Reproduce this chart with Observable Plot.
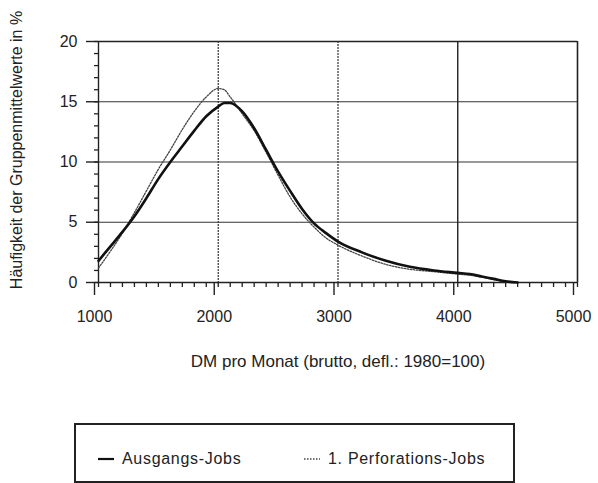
<!DOCTYPE html>
<html>
<head>
<meta charset="utf-8">
<script src="https://cdn.jsdelivr.net/npm/d3@7"></script>
<script src="https://cdn.jsdelivr.net/npm/@observablehq/plot@0.6"></script>
<style>
  html, body { margin: 0; padding: 0; background: #fff; }
  #wrap { position: relative; width: 598px; height: 483px; overflow: hidden; font-family: "Liberation Sans", Arial, sans-serif; color: #222; }
  #legend { position: absolute; left: 74px; top: 423px; width: 437px; height: 56px; border: 2px solid #222; box-sizing: content-box; }
  .item { position: absolute; top: 25px; font-size: 16px; letter-spacing: 0.7px; white-space: nowrap; display: flex; align-items: center; }
  .item svg { margin-right: 8px; }
</style>
</head>
<body>
<div id="wrap">
  <div id="chart"></div>
  <div id="legend"></div>
</div>
<script>
// Data
const income = [1000, 1100, 1200, 1300, 1400, 1500, 1600, 1700, 1800, 1900, 2000, 2050, 2100, 2200, 2300, 2400, 2500, 2600, 2700, 2800, 2900, 3000, 3200, 3400, 3600, 3800, 4000, 4100, 4200, 4300, 4400, 4500];
const ausgangsJobs = [1.8, 3.0, 4.2, 5.5, 7.0, 8.6, 10.0, 11.3, 12.6, 13.8, 14.6, 14.9, 14.9, 14.2, 12.8, 11.0, 9.2, 7.6, 6.1, 4.9, 4.1, 3.4, 2.5, 1.8, 1.3, 1.0, 0.8, 0.7, 0.5, 0.3, 0.1, 0.0];
const perforationsJobs = [1.2, 2.6, 4.1, 5.8, 7.6, 9.4, 11.0, 12.7, 14.2, 15.4, 16.1, 16.0, 15.4, 14.0, 12.6, 10.8, 8.9, 7.1, 5.7, 4.6, 3.7, 3.1, 2.2, 1.5, 1.1, 0.9, 0.7, 0.6, 0.45, 0.25, 0.05, 0.0];
const seriesNames = ["Ausgangs-Jobs", "1. Perforations-Jobs"];
const xTicks = [1000, 2000, 3000, 4000, 5000];
const yTicks = [0, 5, 10, 15, 20];
const xMinorTicks = d3.range(1000, 5001, 100);
const yMinorTicks = d3.range(0, 21, 1);
const xLabel = "DM pro Monat (brutto, defl.: 1980=100)";
const yLabel = "Häufigkeit der Gruppenmittelwerte in %";

const solidData = income.map((x, i) => ({x, y: ausgangsJobs[i]}));
const dottedData = income.map((x, i) => ({x, y: perforationsJobs[i]}));

const font = "'Liberation Sans', Arial, sans-serif";
const chart = Plot.plot({
  width: 598,
  height: 410,
  marginLeft: 98,
  marginRight: 21,
  marginTop: 41,
  marginBottom: 128,
  style: {fontFamily: font, fontSize: "16px", color: "#222", background: "white"},
  x: {domain: [1000, 5000]},
  y: {domain: [0, 20]},
  marks: [
    Plot.ruleY([5, 10, 15], {stroke: "#333", strokeWidth: 1.2}),
    Plot.ruleY([20], {stroke: "#222", strokeWidth: 1.5}),
    Plot.ruleX([2000, 3000], {stroke: "#333", strokeWidth: 1.2, strokeDasharray: "2,1"}),
    Plot.ruleX([1000, 4000], {stroke: "#222", strokeWidth: 1.4}),
    Plot.ruleX([5000], {stroke: "#222", strokeWidth: 1.6}),
    Plot.ruleY([0], {stroke: "#222", strokeWidth: 1.5}),
    Plot.axisY(yMinorTicks, {tickSize: 4, text: null, label: null, stroke: "#222", strokeWidth: 1.3}),
    Plot.axisY(yTicks, {tickSize: 12, tickPadding: 9, label: null, stroke: "#222", strokeWidth: 1.4, tickFormat: d3.format("d"), style: {letterSpacing: "1.5px"}}),
    Plot.axisX(xMinorTicks, {tickSize: 5, text: null, label: null, stroke: "#222", strokeWidth: 1.3}),
    Plot.axisX(xTicks, {tickSize: 13, tickPadding: 15, label: null, stroke: "#222", strokeWidth: 1.4, dx: -4, tickFormat: d3.format("d"), style: {letterSpacing: "1.5px"}}),
    Plot.line(dottedData, {x: "x", y: "y", curve: "monotone-x", stroke: "#444", strokeWidth: 1.3, strokeDasharray: "1.5,1.5"}),
    Plot.line(solidData, {x: "x", y: "y", curve: "monotone-x", stroke: "#111", strokeWidth: 2.6}),
    Plot.text([xLabel], {frameAnchor: "bottom", dy: 84, fontSize: 17, fill: "#222", style: {letterSpacing: "0.5px"}}),
    Plot.text([yLabel], {frameAnchor: "left", textAnchor: "middle", rotate: -90, dx: -82, dy: -12, fontSize: 16, fill: "#222", style: {letterSpacing: "0.5px"}})
  ]
});
document.getElementById("chart").appendChild(chart);

// Legend (HTML, below the SVG)
const legend = document.getElementById("legend");
const styles = [
  {left: 22, dash: null, width: 2.2, color: "#111"},
  {left: 228, dash: "1.5,1.5", width: 1.3, color: "#444"}
];
seriesNames.forEach((name, i) => {
  const s = styles[i];
  const item = document.createElement("div");
  item.className = "item";
  item.style.left = s.left + "px";
  item.innerHTML = `<svg width="16" height="10"><line x1="0" x2="16" y1="5" y2="5" stroke="${s.color}" stroke-width="${s.width}" ${s.dash ? `stroke-dasharray="${s.dash}"` : ""}/></svg><span>${name}</span>`;
  legend.appendChild(item);
});
</script>
</body>
</html>
